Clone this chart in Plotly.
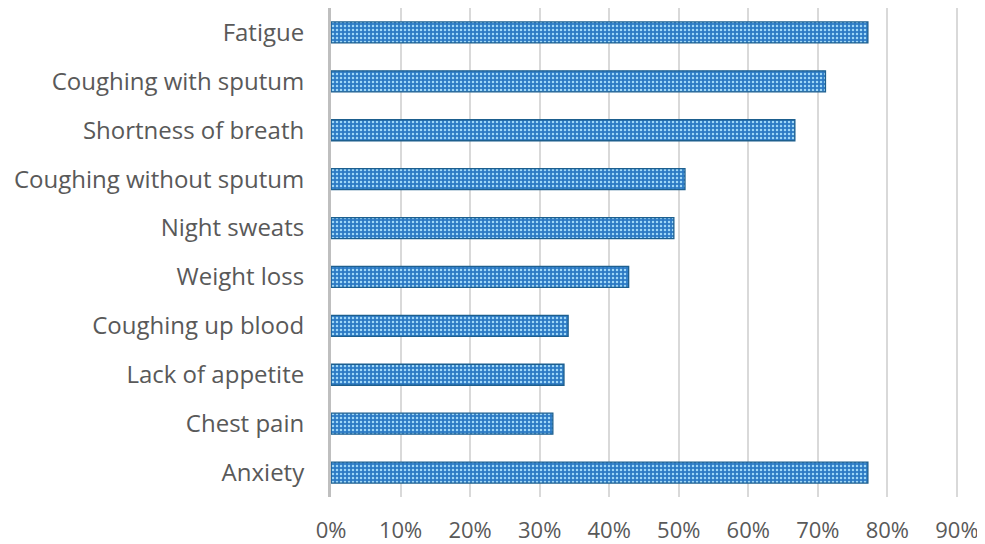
import plotly.graph_objects as go

categories = ["Fatigue", "Coughing with sputum", "Shortness of breath", "Coughing without sputum",
              "Night sweats", "Weight loss", "Coughing up blood", "Lack of appetite",
              "Chest pain", "Anxiety"]
values = [0.772, 0.711, 0.667, 0.509, 0.493, 0.428, 0.341, 0.335, 0.319, 0.772]
tick_vals = [0, 0.1, 0.2, 0.3, 0.4, 0.5, 0.6, 0.7, 0.8, 0.9]
tick_text = ["0%", "10%", "20%", "30%", "40%", "50%", "60%", "70%", "80%", "90%"]

fig = go.Figure(go.Bar(
    x=values, y=categories, orientation="h", width=0.43,
    marker=dict(
        color="#2c7ac4",
        line=dict(color="#1d5f8e", width=1.3),
        pattern=dict(shape=".", bgcolor="#2c7ac4", fgcolor="#9fd8f8", size=4, solidity=0.3,
                     fillmode="replace"),
    ),
))

fig.update_layout(
    width=985, height=544,
    margin=dict(l=323, r=34, t=0, b=55, autoexpand=False),
    plot_bgcolor="white", paper_bgcolor="white",
    font=dict(family="Open Sans, Liberation Sans, Arial, sans-serif", size=22, color="#595959"),
    showlegend=False,
)
fig.update_xaxes(
    range=[0, 0.903], tickvals=tick_vals, ticktext=tick_text,
    showgrid=True, gridcolor="#d9d9d9", gridwidth=1.5,
    zeroline=False, showline=False, automargin=False,
    ticks="outside", ticklen=14, tickcolor="rgba(0,0,0,0)",
    tickfont=dict(size=22, color="#595959"),
)
fig.update_yaxes(
    autorange="reversed", categoryorder="array", categoryarray=categories,
    showline=True, linecolor="#bfbfbf", linewidth=3, automargin=False,
    ticks="outside", ticklen=19, tickcolor="rgba(0,0,0,0)",
    tickfont=dict(size=24, color="#595959"),
    showgrid=False,
)

fig.write_html("out.html")
